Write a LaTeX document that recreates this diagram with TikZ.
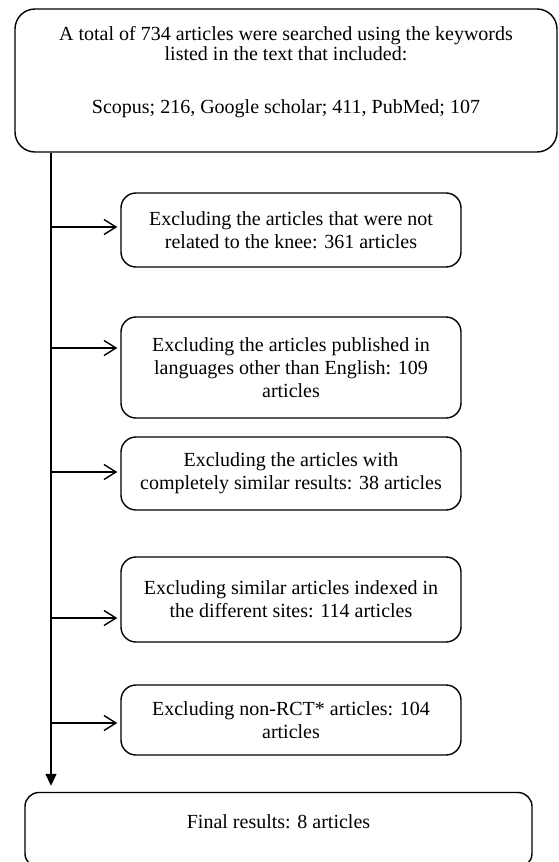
\documentclass[tikz,border=0pt]{standalone}
\usepackage{fontspec}
\setmainfont{Liberation Serif}
\usetikzlibrary{arrows.meta}

\tikzset{
  flowbox/.style={draw,line width=1.4pt,rounded corners=15pt,align=center,
    inner sep=0pt,font=\fontsize{20}{23}\selectfont},
  exbox/.style={flowbox,minimum width=340pt},
  exarrow/.style={line width=1.4pt,shorten >=3pt,
    -{Straight Barb[length=12pt,width=15pt,line width=1.4pt]}}
}

\begin{document}
\begin{tikzpicture}[x=1pt,y=-1pt]
\useasboundingbox (0,0) rectangle (559,862);

% search results
\node[flowbox,rounded corners=20pt,minimum width=542pt,minimum height=143pt,
  text height=66pt,text depth=0pt] (search) at (286,80.5)
  {\fontsize{20}{20}\selectfont
   \begin{tabular}[b]{@{}c@{}}
   A total of 734 articles were searched using the keywords\\
   listed in the text that included:\\[33pt]
   Scopus; 216, Google scholar; 411, PubMed; 107
   \end{tabular}};

% exclusion steps
\node[exbox,minimum height=74pt] (ex1) at (291,230)
  {Excluding the articles that were not\\ related to the knee: 361 articles};
\node[exbox,minimum height=101pt] (ex2) at (291,367.5)
  {Excluding the articles published in\\ languages other than English: 109\\ articles};
\node[exbox,minimum height=73pt] (ex3) at (291,473.5)
  {Excluding the articles with\\ completely similar results: 38 articles};
\node[exbox,minimum height=85pt] (ex4) at (291,599.5)
  {Excluding similar articles indexed in\\ the different sites: 114 articles};
\node[exbox,minimum height=70pt] (ex5) at (291,720)
  {Excluding non-RCT* articles: 104\\ articles};

% final
\node[flowbox,rounded corners=14pt,minimum width=507pt,minimum height=75pt,
  text height=14pt,text depth=18pt] (final) at (278.5,830) {Final results: 8 articles};

% trunk and branches
\coordinate (trunkx) at (51,0);
\coordinate (trunk) at (search.south -| trunkx);
\draw[line width=1.4pt,shorten >=6pt,-{Triangle[length=12pt,width=11pt]}]
  (trunk) -- (trunk |- final.north);
\foreach \b/\y in {ex1/227,ex2/348,ex3/472,ex4/618,ex5/723}{
  \coordinate (j\b) at (51,\y);
  \draw[exarrow] (j\b) -- (j\b -| \b.west);
}
\end{tikzpicture}
\end{document}
